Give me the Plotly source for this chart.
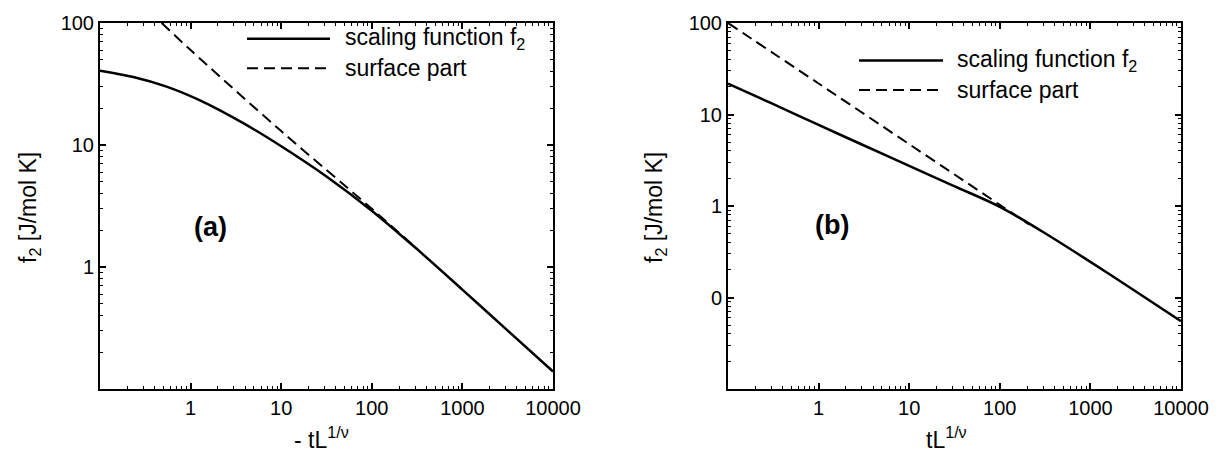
import plotly.graph_objects as go

# ---------------- data ----------------
# panel (a): x = -tL^(1/nu)
a_x = [0.1, 0.233, 0.543, 1.27, 3.81, 10, 31.6, 99, 309, 991, 3055, 10000]
a_f2 = [40.7, 36.1, 30.1, 23.2, 15.1, 9.77, 5.52, 2.91, 1.42, 0.656, 0.308, 0.139]
a_surf_x = [0.479, 1, 10, 100, 340]
a_surf = [100, 60.0, 13.0, 3.0, 1.34]

# panel (b): x = tL^(1/nu)
b_x = [0.1, 0.3, 1, 3, 10, 30, 100, 300, 1000, 3000, 10000]
b_f2 = [21.7, 13.3, 7.7, 4.7, 2.75, 1.68, 0.98, 0.52, 0.245, 0.121, 0.055]
b_surf_x = [0.1, 1, 10, 100, 210]
b_surf = [100, 21.8, 4.74, 1.03, 0.63]

x_tickvals = [1, 10, 100, 1000, 10000]
x_ticktext = ["1", "10", "100", "1000", "10000"]
ya_tickvals = [1, 10, 100]
ya_ticktext = ["1", "10", "100"]
yb_tickvals = [0.1, 1, 10, 100]
yb_ticktext = ["0", "1", "10", "100"]

legend_labels = ["scaling function f<sub>2</sub>", "surface part"]

# ---------------- layout geometry ----------------
W, H = 1224, 453
L, R, T, B = 100, 43, 17, 64
PW, PH = W - L - R, H - T - B


def px(x):
    return (x - L) / PW


def py(y):
    return (H - B - y) / PH


FONT = "Liberation Sans, Arial, Helvetica, sans-serif"
BLACK = "#000000"


def minor_vals(lo, hi):
    vals = []
    for e in range(lo, hi):
        for m in range(2, 10):
            vals.append(m * 10 ** e)
    return vals


def log_axis(domain, rng, tickvals, ticktext, anchor, minor):
    return dict(
        type="log", domain=domain, range=rng, anchor=anchor,
        tickmode="array", tickvals=tickvals, ticktext=ticktext,
        ticks="inside", ticklen=6, tickwidth=1.5, tickcolor=BLACK,
        showline=True, linewidth=2, linecolor=BLACK, mirror="ticks",
        showgrid=False, zeroline=False,
        tickfont=dict(family=FONT, size=20, color=BLACK),
        minor=dict(ticks="inside", ticklen=3, tickwidth=1, tickcolor=BLACK,
                   tickmode="array", tickvals=minor, showgrid=False),
    )


SOLID = dict(color=BLACK, width=2.5)
DASHED = dict(color=BLACK, width=2, dash="11px,6px")

fig = go.Figure()
fig.add_trace(go.Scatter(x=a_x, y=a_f2, mode="lines", line=SOLID, line_shape="spline",
                         xaxis="x", yaxis="y", showlegend=False))
fig.add_trace(go.Scatter(x=a_surf_x, y=a_surf, mode="lines", line=DASHED, line_shape="spline",
                         xaxis="x", yaxis="y", showlegend=False))
fig.add_trace(go.Scatter(x=b_x, y=b_f2, mode="lines", line=SOLID, line_shape="spline",
                         xaxis="x2", yaxis="y2", showlegend=False))
fig.add_trace(go.Scatter(x=b_surf_x, y=b_surf, mode="lines", line=DASHED, line_shape="spline",
                         xaxis="x2", yaxis="y2", showlegend=False))

xa_dom = [0, px(553)]
xb_dom = [px(728), 1]

fig.update_layout(
    width=W, height=H, autosize=False,
    margin=dict(l=L, r=R, t=T, b=B, pad=0),
    paper_bgcolor="white", plot_bgcolor="white",
    font=dict(family=FONT, size=20, color=BLACK),
    xaxis=log_axis(xa_dom, [-1, 4], x_tickvals, x_ticktext, "y", minor_vals(-1, 4)),
    yaxis=log_axis([0, 1], [-1, 2], ya_tickvals, ya_ticktext, "x", minor_vals(-1, 2)),
    xaxis2=log_axis(xb_dom, [-1, 4], x_tickvals, x_ticktext, "y2", minor_vals(-1, 4)),
    yaxis2=log_axis([0, 1], [-2, 2], yb_tickvals, yb_ticktext, "x2", minor_vals(-2, 2)),
)

TITLE = dict(size=23, family=FONT, color=BLACK)
ann = []
# axis titles
ann.append(dict(text="f<sub>2</sub> [J/mol K]", x=px(30), y=py(205), textangle=-90,
                showarrow=False, xanchor="center", yanchor="middle", font=TITLE))
ann.append(dict(text="f<sub>2</sub> [J/mol K]", x=px(656), y=py(205), textangle=-90,
                showarrow=False, xanchor="center", yanchor="middle", font=TITLE))
ann.append(dict(text="- tL<sup>1/ν</sup>", x=px(321), y=py(439),
                showarrow=False, xanchor="center", yanchor="middle", font=TITLE))
ann.append(dict(text="tL<sup>1/ν</sup>", x=px(946), y=py(439),
                showarrow=False, xanchor="center", yanchor="middle", font=TITLE))
# panel labels
ann.append(dict(text="<b>(a)</b>", x=px(210), y=py(224), showarrow=False,
                xanchor="center", yanchor="middle", font=dict(size=27, family=FONT, color=BLACK)))
ann.append(dict(text="<b>(b)</b>", x=px(832), y=py(222), showarrow=False,
                xanchor="center", yanchor="middle", font=dict(size=27, family=FONT, color=BLACK)))

shapes = []
# legends
for (lx0, lx1, tx, ys) in [(247, 330, 343, (33, 63)), (859, 943, 955, (55, 85))]:
    for i, yy in enumerate(ys):
        style = SOLID if i == 0 else DASHED
        shapes.append(dict(type="line", xref="paper", yref="paper",
                           x0=px(lx0), x1=px(lx1), y0=py(yy), y1=py(yy),
                           line=dict(color=BLACK, width=style["width"],
                                     dash=style.get("dash", "solid"))))
        ann.append(dict(text=legend_labels[i], x=px(tx), y=py(yy), showarrow=False,
                        xanchor="left", yanchor="middle", font=TITLE))

for a in ann:
    a.setdefault("xref", "paper")
    a.setdefault("yref", "paper")
fig.update_layout(annotations=ann, shapes=shapes)

fig.write_html("out.html")
